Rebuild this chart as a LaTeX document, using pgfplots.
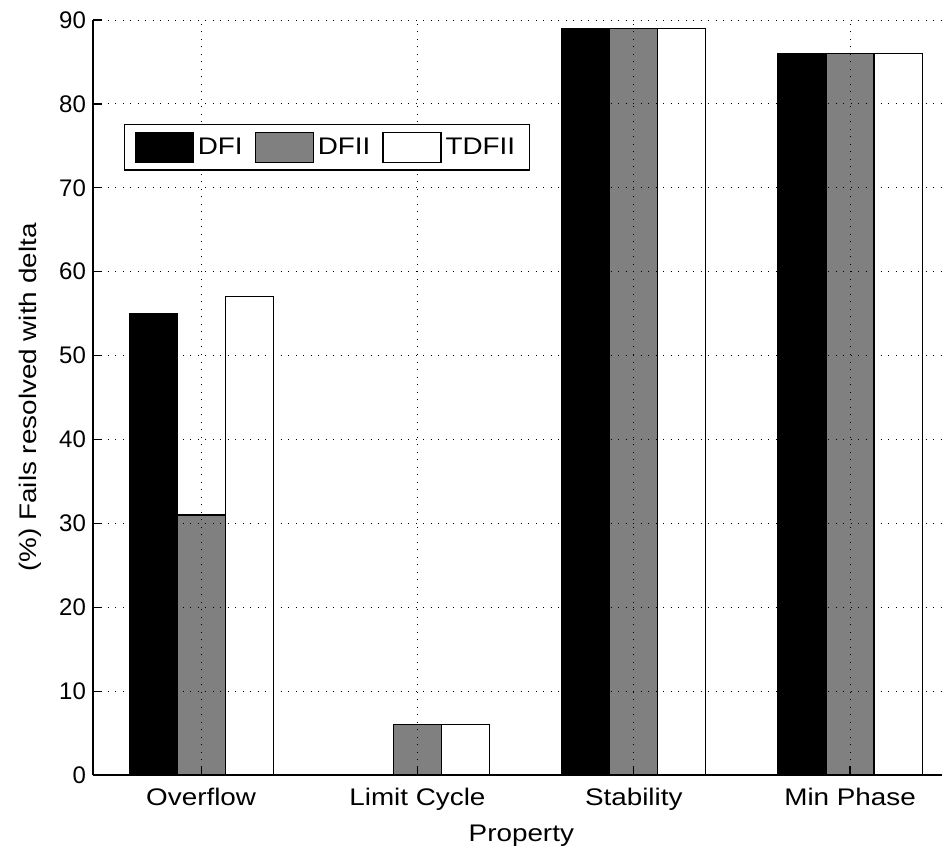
\documentclass[border=0pt]{standalone}
\usepackage{fontspec}
\setmainfont{Liberation Sans}
\newfontfamily\lblfont{Liberation Sans}[FakeStretch=1.16]
\usepackage{pgfplots}
\pgfplotsset{compat=1.18}
\newcommand{\lbl}{\lblfont\fontsize{12}{14}\selectfont}
\newcommand{\num}{\fontsize{12}{14}\selectfont}
\begin{document}
\begin{tikzpicture}
\path[use as bounding box] (-46.5pt,-36pt) rectangle (424.5pt,387.5pt);
\begin{axis}[
  at={(0pt,0pt)}, anchor=south west,
  scale only axis, width=424.5pt, height=377.5pt,
  xmin=0.5, xmax=4.425, ymin=0, ymax=90,
  axis x line*=bottom, axis y line*=left,
  axis line style={line width=0.6pt, black},
  xtick={1,2,3,4},
  xticklabels={Overflow, Limit Cycle, Stability, Min Phase},
  ytick={0,10,...,90},
  tick align=inside, major tick length=4.5pt,
  tick style={line width=0.6pt, black},
  grid=major,
  major grid style={line width=0.5pt, black, dash pattern=on 0.5pt off 3.25pt},
  axis on top,
  /pgf/number format/assume math mode=true,
  xticklabel style={font=\lbl, yshift=-3pt},
  yticklabel style={font=\num},
  xlabel={Property},
  ylabel={(\%) Fails resolved with delta},
  xlabel style={font=\lbl, at={(axis description cs:0.5045,0)}, anchor=base, yshift=-33pt},
  ylabel style={font=\lbl, at={(axis description cs:-0.066,0.5)}, anchor=base},
  legend style={at={(0.0365,0.862)}, anchor=north west, legend columns=3,
    draw=black, line width=0.6pt, font=\lbl, inner xsep=5pt, inner ysep=3.5pt,
    /tikz/every even column/.append style={column sep=4pt}},
  legend image code/.code={\draw[#1, line width=0.6pt] (0pt,-7.5pt) rectangle (29pt,7.5pt);},
]
\addplot[ybar, bar width=0.222, bar shift=-0.222, fill=black, draw=black, line width=0.6pt]
  coordinates {(1,55) (2,0) (3,89) (4,86)};
\addplot[ybar, bar width=0.222, bar shift=0, fill={rgb,255:red,128;green,128;blue,128}, draw=black, line width=0.6pt]
  coordinates {(1,31) (2,6) (3,89) (4,86)};
\addplot[ybar, bar width=0.222, bar shift=0.222, fill=white, draw=black, line width=0.6pt]
  coordinates {(1,57) (2,6) (3,89) (4,86)};
\legend{DFI, DFII, TDFII}
\end{axis}
\end{tikzpicture}
\end{document}
